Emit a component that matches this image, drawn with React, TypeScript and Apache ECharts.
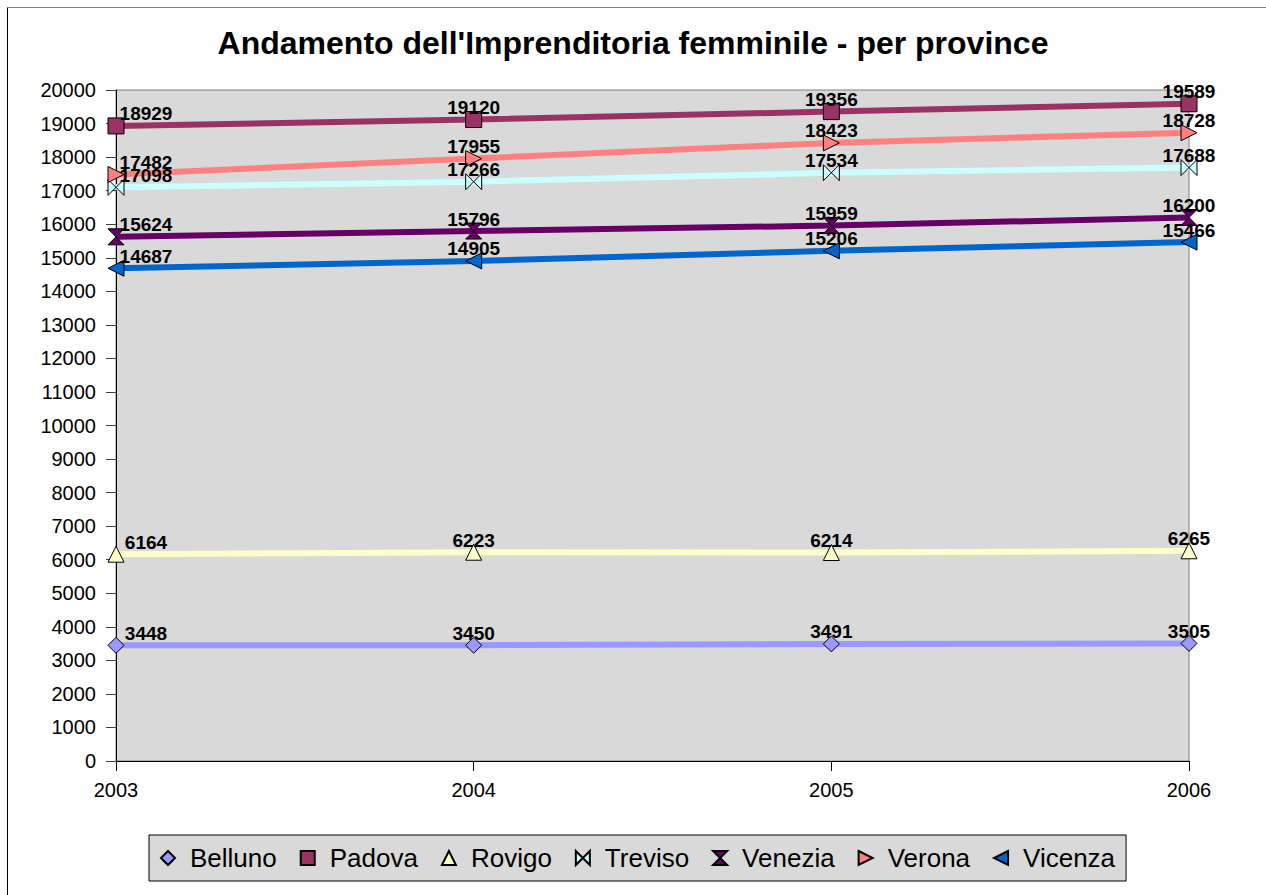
import React, { useEffect, useRef } from "react";
import * as echarts from "echarts";

const years = ["2003", "2004", "2005", "2006"];
const belluno = [3448, 3450, 3491, 3505];
const padova = [18929, 19120, 19356, 19589];
const rovigo = [6164, 6223, 6214, 6265];
const treviso = [17098, 17266, 17534, 17688];
const venezia = [15624, 15796, 15959, 16200];
const verona = [17482, 17955, 18423, 18728];
const vicenza = [14687, 14905, 15206, 15466];

const FONT = "'Liberation Sans', Arial, sans-serif";

const seriesDefs = [
  { name: "Belluno", data: belluno, color: "#9999ff", symbol: "diamond" },
  { name: "Padova", data: padova, color: "#993366", symbol: "rect" },
  { name: "Rovigo", data: rovigo, color: "#ffffcc", symbol: "triangle" },
  { name: "Treviso", data: treviso, color: "#ccffff", symbol: "path://M0,0 L10,10 L10,0 L0,10 Z" },
  { name: "Venezia", data: venezia, color: "#660066", symbol: "path://M0,0 L10,0 L0,10 L10,10 Z" },
  { name: "Verona", data: verona, color: "#ff8080", symbol: "path://M0,0 L10,5 L0,10 Z" },
  { name: "Vicenza", data: vicenza, color: "#0066cc", symbol: "path://M10,0 L0,5 L10,10 Z" },
];

export default function App() {
  const ref = useRef<HTMLDivElement>(null);
  useEffect(() => {
    if (!ref.current) return;
    const chart = echarts.init(ref.current, null, { renderer: "svg" });
    chart.setOption({
      animation: false,
      backgroundColor: "#ffffff",
      title: {
        text: "Andamento dell'Imprenditoria femminile - per province",
        left: "center",
        top: 27,
        padding: 0,
        textStyle: { fontFamily: FONT, fontSize: 32, fontWeight: "bold", color: "#000" },
      },
      graphic: [
        { type: "line", shape: { x1: 7.5, y1: 7.5, x2: 1266, y2: 7.5 }, style: { stroke: "#808080", lineWidth: 1 } },
        { type: "line", shape: { x1: 7.5, y1: 7.5, x2: 7.5, y2: 895 }, style: { stroke: "#000", lineWidth: 1 } },
      ],
      grid: {
        left: 116,
        right: 77,
        top: 90,
        bottom: 134,
        show: true,
        backgroundColor: "#d9d9d9",
        borderColor: "#808080",
        borderWidth: 1,
      },
      legend: {
        left: 149,
        bottom: 14,
        padding: [10, 11],
        itemWidth: 14,
        itemHeight: 14,
        itemGap: 23,
        backgroundColor: "#d9d9d9",
        borderColor: "#000",
        borderWidth: 1,
        textStyle: { fontFamily: FONT, fontSize: 26, color: "#000", padding: [0, 0, 0, 10] },
        data: seriesDefs.map((s) => ({ name: s.name, icon: s.symbol })),
      },
      xAxis: {
        type: "category",
        data: years,
        boundaryGap: false,
        axisLine: { lineStyle: { color: "#000", width: 1 } },
        axisTick: { show: true, length: 10, alignWithLabel: true, lineStyle: { color: "#000" } },
        axisLabel: { fontFamily: FONT, fontSize: 20, color: "#000", margin: 19 },
        splitLine: { show: false },
      },
      yAxis: {
        type: "value",
        min: 0,
        max: 20000,
        interval: 1000,
        axisLine: { show: true, lineStyle: { color: "#000", width: 1 } },
        axisTick: { show: true, length: 10, lineStyle: { color: "#404040" } },
        axisLabel: {
          fontFamily: FONT,
          fontSize: 20,
          color: "#000",
          margin: 20,
          formatter: (v: number) => String(v),
        },
        splitLine: { show: false },
      },
      series: seriesDefs.map((s) => ({
        name: s.name,
        type: "line",
        data: s.data.map((v, i) => (i === 0 ? { value: v, label: { offset: [30, 0] } } : v)),
        symbol: s.symbol,
        symbolSize: 16,
        lineStyle: { color: s.color, width: 6 },
        itemStyle: { color: s.color, borderColor: "#000", borderWidth: 1 },
        label: {
          show: true,
          position: "top",
          distance: -6,
          fontFamily: FONT,
          fontSize: 19,
          fontWeight: "bold",
          color: "#000",
        },
        emphasis: { disabled: true },
      })),
    });
    return () => chart.dispose();
  }, []);
  return (
    <div
      ref={ref}
      style={{ position: "absolute", left: 0, top: 0, width: 1266, height: 895 }}
    />
  );
}
